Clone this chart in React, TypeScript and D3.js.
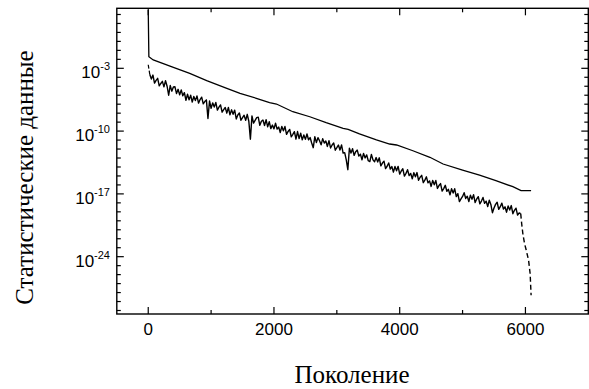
import React from "react";
import * as d3 from "d3";

const W = 589;
const H = 389;

// Upper (smooth) series: generation and log10 value
const upperGen = [0, 10, 80, 400, 660, 930, 1250, 1460, 1720, 1930, 2040, 2300, 2570, 2830, 3100, 3180, 3360, 3630, 3840, 3950, 4210, 4480, 4690, 5000, 5270, 5530, 5800, 5930, 6090];
const upperExp = [3.5, -1.71, -2.07, -2.89, -3.56, -4.38, -5.23, -5.79, -6.34, -6.83, -6.98, -7.84, -8.4, -9.06, -9.69, -9.8, -10.32, -10.99, -11.44, -11.55, -12.19, -12.92, -13.67, -14.34, -14.9, -15.53, -16.2, -16.64, -16.64];

// Lower (noisy) series, every 25 generations from 25 to 5925 (log10 values)
const lowerStep = 25;
const lowerExp = [
  -3.7, -4.2, -3.75, -4.65,
  -4.34, -4.12, -4.96, -4.69,
  -4.45, -5.07, -4.38, -5.0,
  -6.0, -4.92, -5.55, -5.09,
  -5.06, -5.82, -5.34, -5.96,
  -5.41, -6.06, -5.71, -6.56,
  -5.89, -6.52, -6.0, -6.77,
  -6.14, -6.6, -6.07, -6.88,
  -6.48, -6.22, -6.95, -6.71,
  -6.52, -8.6, -6.64, -7.45,
  -6.85, -7.31, -6.81, -7.66,
  -7.32, -7.08, -7.89, -7.6,
  -7.37, -8.0, -7.37, -8.19,
  -7.63, -8.12, -7.66, -8.65,
  -8.21, -7.98, -8.79, -8.5,
  -8.23, -8.8, -8.13, -8.9,
  -10.9, -8.3, -9.1, -8.8,
  -8.5, -8.45, -9.36, -8.91,
  -8.77, -9.37, -8.73, -9.53,
  -8.95, -9.72, -9.33, -9.75,
  -9.12, -9.78, -9.55, -10.16,
  -9.49, -9.96, -9.49, -10.36,
  -10.04, -9.81, -10.64, -10.36,
  -10.06, -10.9, -10.05, -10.84,
  -10.24, -10.98, -10.43, -10.92,
  -10.32, -10.97, -10.72, -11.32,
  -11.85, -10.62, -11.28, -10.73,
  -11.08, -11.53, -10.84, -11.34,
  -11.1, -11.71, -11.07, -11.88,
  -11.55, -11.32, -12.13, -11.85,
  -11.55, -12.1, -11.55, -12.45,
  -12.4, -13.2, -14.3, -11.9,
  -12.44, -11.97, -12.71, -12.29,
  -12.12, -12.79, -12.57, -13.19,
  -12.49, -12.99, -12.65, -13.3,
  -13.4, -12.6, -13.21, -13.41,
  -12.95, -13.44, -12.98, -13.87,
  -13.56, -13.35, -14.18, -13.92,
  -13.55, -14.23, -13.95, -14.58,
  -13.95, -14.42, -13.93, -14.8,
  -14.45, -14.2, -15.01, -14.71,
  -14.31, -14.96, -14.72, -15.32,
  -14.64, -15.1, -14.62, -15.48,
  -15.15, -14.93, -15.75, -15.47,
  -15.1, -15.77, -15.55, -16.17,
  -15.5, -15.98, -15.51, -16.39,
  -16.07, -15.85, -16.68, -16.41,
  -16.04, -16.71, -16.49, -17.11,
  -16.43, -16.9, -16.43, -17.3,
  -16.97, -17.85, -17.56, -17.28,
  -16.87, -17.51, -17.26, -17.85,
  -17.14, -17.59, -17.08, -17.97,
  -17.57, -17.31, -18.11, -17.8,
  -17.4, -18.05, -17.81, -18.41,
  -17.71, -18.17, -19.1, -18.57,
  -18.17, -17.93, -18.73, -18.43,
  -18.03, -18.69, -18.44, -19.04,
  -18.34, -18.8, -18.3, -19.21,
  -18.83, -18.59, -19.36, -19.13,
  -19.2,
];

// Lower series start and final drop (drawn dashed)
const headGen = [0, 25];
const headExp = [-2.6, -3.7];
const tailGen = [5925, 5940, 5960, 5985, 6010, 6050, 6075, 6090];
const tailExp = [-19.2, -20.3, -21.5, -22.5, -23.2, -24.4, -25.9, -28.3];

const xTicksMajor = [0, 2000, 4000, 6000];
const xTicksMinor = [1000, 3000, 5000];
const yTicksMajorExp = [-3, -10, -17, -24];
const yMinorExpMin = -30;
const yMinorExpMax = 3;

const xLabel = "Поколение";
const yLabel = "Статистические данные";

const L = 116.8, R = 588.3, T = 8.3, B = 314;

export default function App() {
  const x = d3.scaleLinear().domain([-500, 7000]).range([L, R]);
  const y = d3.scaleLog().domain([Math.pow(10, -30.39), Math.pow(10, 3.69)]).range([B, T]);

  const line = d3
    .line<[number, number]>()
    .x((d) => x(d[0]))
    .y((d) => y(Math.pow(10, d[1])));

  const upper: [number, number][] = upperGen.map((g, i) => [g, upperExp[i]]);
  const lower: [number, number][] = lowerExp.map((e, i) => [(i + 1) * lowerStep, e]);
  const head: [number, number][] = headGen.map((g, i) => [g, headExp[i]]);
  const tail: [number, number][] = tailGen.map((g, i) => [g, tailExp[i]]);

  const minorExps = d3.range(yMinorExpMin, yMinorExpMax + 1).filter((e) => !yTicksMajorExp.includes(e));

  const sans = "'Liberation Sans', Arial, sans-serif";
  const serif = "'Liberation Serif', 'Times New Roman', serif";

  return (
    <svg width={W} height={H} style={{ position: "absolute", left: 0, top: 0, background: "#fff" }}>
      <rect x={0} y={0} width={W} height={H} fill="#fff" />
      {/* data */}
      <path d={line(upper) || ""} fill="none" stroke="#000" strokeWidth={1.3} />
      <path d={line(lower) || ""} fill="none" stroke="#000" strokeWidth={1.4} strokeLinejoin="round" />
      <path d={line(head) || ""} fill="none" stroke="#000" strokeWidth={1.2} strokeDasharray="4,2" />
      <path d={line(tail) || ""} fill="none" stroke="#000" strokeWidth={1.4} strokeDasharray="5,3" />

      {/* frame */}
      <rect x={L} y={T} width={R - L} height={B - T} fill="none" stroke="#000" strokeWidth={1.4} />

      {/* x ticks */}
      {xTicksMajor.map((t) => (
        <g key={"xM" + t}>
          <line x1={x(t)} x2={x(t)} y1={B} y2={B - 7} stroke="#000" strokeWidth={1.2} />
          <line x1={x(t)} x2={x(t)} y1={T} y2={T + 7} stroke="#000" strokeWidth={1.2} />
          <text x={x(t)} y={335} textAnchor="middle" fontFamily={sans} fontSize={17}>
            {t}
          </text>
        </g>
      ))}
      {xTicksMinor.map((t) => (
        <g key={"xm" + t}>
          <line x1={x(t)} x2={x(t)} y1={B} y2={B - 4} stroke="#000" strokeWidth={1.2} />
          <line x1={x(t)} x2={x(t)} y1={T} y2={T + 4} stroke="#000" strokeWidth={1.2} />
        </g>
      ))}

      {/* y ticks */}
      {yTicksMajorExp.map((e) => {
        const yy = y(Math.pow(10, e));
        return (
          <g key={"yM" + e}>
            <line x1={L} x2={L + 7} y1={yy} y2={yy} stroke="#000" strokeWidth={1.2} />
            <line x1={R} x2={R - 7} y1={yy} y2={yy} stroke="#000" strokeWidth={1.2} />
            <text x={110} y={yy + 10} textAnchor="end" fontFamily={sans} fontSize={17}>
              10
              <tspan fontSize={11} dy={-8}>
                {e}
              </tspan>
            </text>
          </g>
        );
      })}
      {minorExps.map((e) => {
        const yy = y(Math.pow(10, e));
        return (
          <g key={"ym" + e}>
            <line x1={L} x2={L + 4} y1={yy} y2={yy} stroke="#000" strokeWidth={1.2} />
            <line x1={R} x2={R - 4} y1={yy} y2={yy} stroke="#000" strokeWidth={1.2} />
          </g>
        );
      })}

      {/* axis titles */}
      <text x={352} y={383} textAnchor="middle" fontFamily={serif} fontSize={25}>
        {xLabel}
      </text>
      <text
        transform={`translate(33,177.5) rotate(-90)`}
        textAnchor="middle"
        fontFamily={serif}
        fontSize={25}
      >
        {yLabel}
      </text>
    </svg>
  );
}
